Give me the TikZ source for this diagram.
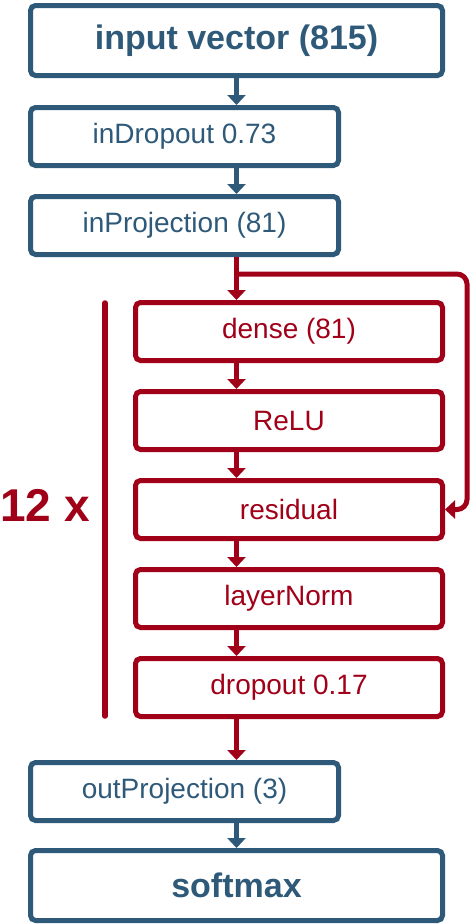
\documentclass[tikz,border=0pt]{standalone}
\usepackage{fontspec}
\setmainfont{Liberation Sans}
\usetikzlibrary{arrows.meta, positioning, calc}
\definecolor{netblue}{RGB}{46,89,120}
\definecolor{netred}{RGB}{160,0,24}

\begin{document}
\begin{tikzpicture}[x=1pt, y=1pt, node distance=26pt]
    \tikzstyle{block} = [rectangle, draw=netblue, line width=5pt, outer sep=2.5pt, rounded corners=5pt, text=netblue, inner sep=0pt, minimum width=308pt, minimum height=58pt, font=\fontsize{28}{34}\selectfont]
    \tikzstyle{wideblock} = [block, minimum width=412pt, minimum height=70pt, font=\bfseries\fontsize{34}{40}\selectfont]
    \tikzstyle{redblock} = [block, draw=netred, text=netred, minimum width=307pt]
    \tikzstyle{line} = [draw=netblue, line width=5pt, -{Triangle[width=18pt, length=10pt]}]
    \tikzstyle{redline} = [line, draw=netred]

    \useasboundingbox (0,0) rectangle (474,-924);

    % input part
    \node[wideblock, anchor=north] (input) at (236.5,-3) {input vector (815)};
    \node[block, below=27pt of input.south west, anchor=north west] (indrop) {inDropout 0.73};
    \node[block, below=of indrop.south west, anchor=north west] (inproj) {inProjection (81)};

    % repeated part
    \node[redblock, below=43pt of inproj.south west, anchor=north west, xshift=105pt] (dense) {dense (81)};
    \node[redblock, below=of dense] (relu) {ReLU};
    \node[redblock, below=of relu] (residual) {residual};
    \node[redblock, below=of residual] (layernorm) {layerNorm};
    \node[redblock, below=of layernorm] (dropout) {dropout 0.17};

    % output part
    \node[block, below=41pt of dropout.south west, anchor=north west, xshift=-105pt] (outproj) {outProjection (3)};
    \node[wideblock, below=25pt of outproj.south west, anchor=north west] (softmax) {softmax};

    % 12 x bracket
    \node[text=netred, font=\bfseries\fontsize{46}{50}\selectfont, inner sep=0pt, anchor=west, yshift=4pt] (repeat) at ($(residual.west)+(-133,0)$) {12 x};
    \coordinate (bartop) at ($(dense.north west)+(-28,-3)$);
    \coordinate (barbot) at ($(dropout.south west)+(-28,3)$);
    \draw[netred, line width=5.5pt, line cap=round] (bartop) -- (barbot);

    % arrows
    \path [line] (input.south) -- (indrop.north -| input.south);
    \path [line] (indrop.south -| input.south) -- (inproj.north -| input.south);
    \path [redline] (inproj.south -| input.south) -- (dense.north -| input.south);
    \path [redline] (dense.south -| input.south) -- (relu.north -| input.south);
    \path [redline] (relu.south -| input.south) -- (residual.north -| input.south);
    \path [redline] (residual.south -| input.south) -- (layernorm.north -| input.south);
    \path [redline] (layernorm.south -| input.south) -- (dropout.north -| input.south);
    \path [redline] (dropout.south -| input.south) -- (outproj.north -| input.south);
    \path [line] (outproj.south -| input.south) -- (softmax.north);

    % skip connection
    \coordinate (split) at ($(inproj.south -| input.south)+(0,-17)$);
    \coordinate (loop) at ($(residual.east)+(22,0)$);
    \path [redline, rounded corners=10pt] (split) -| (loop) -- (residual.east);
\end{tikzpicture}
\end{document}
